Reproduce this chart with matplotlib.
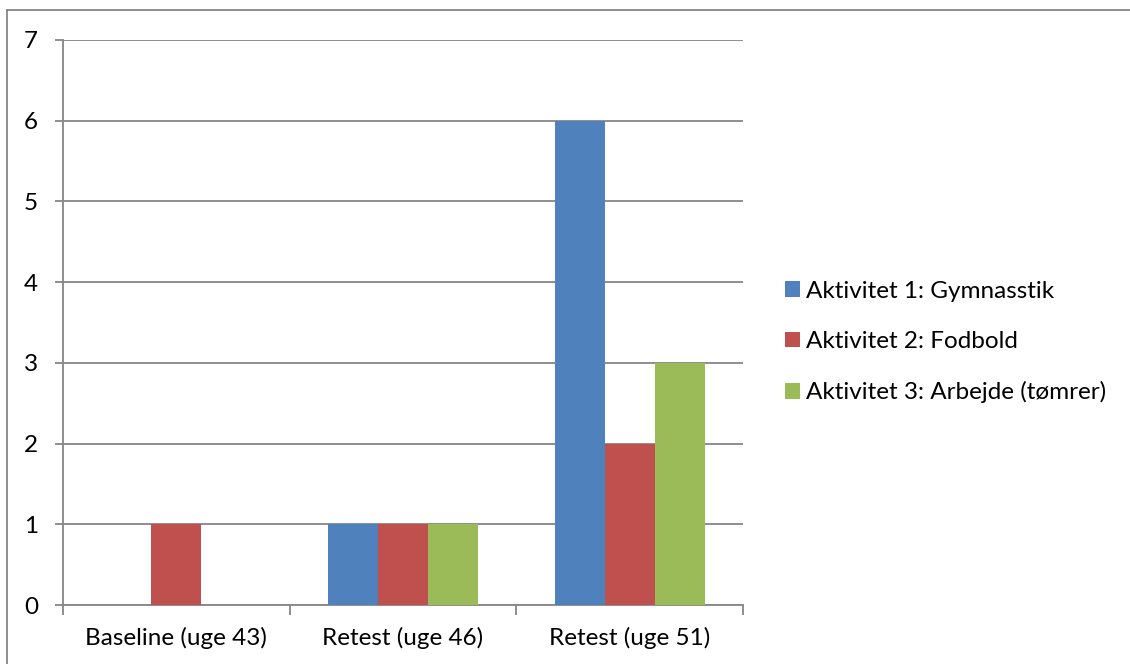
import matplotlib
matplotlib.use("Agg")
import matplotlib.pyplot as plt
from matplotlib.lines import Line2D
from matplotlib.patches import Patch
import numpy as np

categories = ["Baseline (uge 43)", "Retest (uge 46)", "Retest (uge 51)"]
series_names = ["Aktivitet 1: Gymnasstik", "Aktivitet 2: Fodbold", "Aktivitet 3: Arbejde (tømrer)"]
gymnastik = [0, 1, 6]
fodbold = [1, 1, 2]
arbejde = [0, 1, 3]
colors = ["#4F81BD", "#C0504D", "#9BBB59"]

plt.rcParams["font.family"] = ["Lato", "DejaVu Sans"]
grid_color = "#868686"
fs = 17.5

fig = plt.figure(figsize=(11.3, 6.64), dpi=100)
ax = fig.add_axes([63 / 1130, 1 - 605 / 664, 680 / 1130, 565 / 664])

x = np.arange(len(categories))
bar_w = 0.221
for i, (vals, col) in enumerate(zip([gymnastik, fodbold, arbejde], colors)):
    ax.bar(x + (i - 1) * bar_w, vals, width=bar_w, color=col, zorder=3, linewidth=0)

ax.set_xlim(-0.5, len(categories) - 0.5)
ax.set_ylim(0, 7)
ax.set_yticks(range(0, 8))
ax.yaxis.grid(True, color=grid_color, linewidth=1.3, zorder=0)
ax.set_axisbelow(True)

# category labels centred, tick marks on category boundaries
ax.set_xticks(x)
ax.set_xticklabels(categories, fontsize=fs)
ax.tick_params(axis="x", length=0, pad=16)
ax.set_xticks(np.arange(-0.5, len(categories)), minor=True)
ax.tick_params(axis="x", which="minor", length=7, color=grid_color, width=1.3)
ax.tick_params(axis="y", length=6, color=grid_color, width=1.3, labelsize=fs, pad=12)

for side in ["top", "right"]:
    ax.spines[side].set_visible(False)
for side in ["left", "bottom"]:
    ax.spines[side].set_color(grid_color)
    ax.spines[side].set_linewidth(1.3)

handles = [Patch(facecolor=c, edgecolor="none") for c in colors]
fig.legend(handles, series_names, loc="center left",
           bbox_to_anchor=(763 / 1130, 1 - 342 / 664), frameon=False,
           fontsize=fs, handlelength=0.62, handleheight=0.62,
           handletextpad=0.25, labelspacing=1.2)

# outer frame: top and left edges
fig.add_artist(Line2D([7 / 1130, 1], [1 - 10 / 664, 1 - 10 / 664],
                      transform=fig.transFigure, color=grid_color, linewidth=1.3))
fig.add_artist(Line2D([7 / 1130, 7 / 1130], [0, 1 - 10 / 664],
                      transform=fig.transFigure, color=grid_color, linewidth=1.3))

fig.savefig("out.png", dpi=100)
